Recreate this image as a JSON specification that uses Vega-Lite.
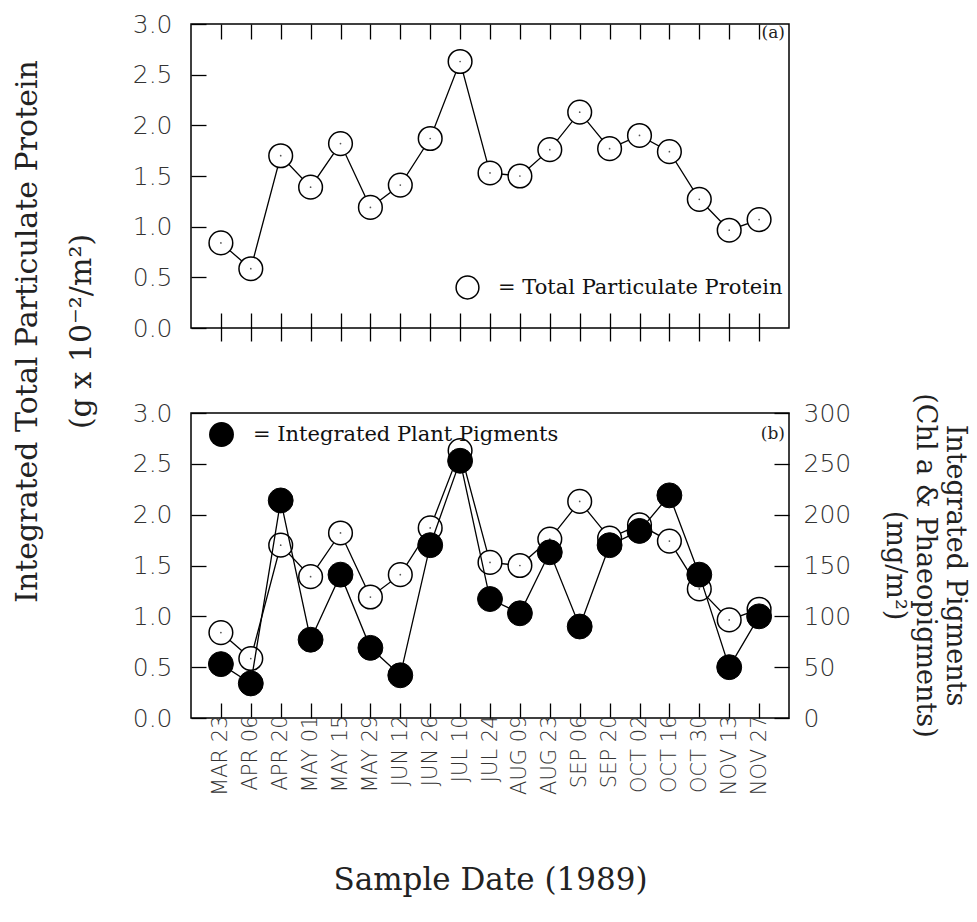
{
  "$schema": "https://vega.github.io/schema/vega-lite/v6.json",
  "background": "white",
  "padding": {"left": 11, "top": 11, "right": 5, "bottom": 5},
  "bounds": "flush",
  "spacing": 85,
  "data": {
    "values": [
      {"date": "MAR 23", "protein": 0.84, "pigment": 53},
      {"date": "APR 06", "protein": 0.585, "pigment": 34},
      {"date": "APR 20", "protein": 1.70, "pigment": 214},
      {"date": "MAY 01", "protein": 1.39, "pigment": 77},
      {"date": "MAY 15", "protein": 1.82, "pigment": 141},
      {"date": "MAY 29", "protein": 1.19, "pigment": 69},
      {"date": "JUN 12", "protein": 1.41, "pigment": 42},
      {"date": "JUN 26", "protein": 1.87, "pigment": 170},
      {"date": "JUL 10", "protein": 2.63, "pigment": 253},
      {"date": "JUL 24", "protein": 1.53, "pigment": 117},
      {"date": "AUG 09", "protein": 1.50, "pigment": 103},
      {"date": "AUG 23", "protein": 1.76, "pigment": 163},
      {"date": "SEP 06", "protein": 2.13, "pigment": 90},
      {"date": "SEP 20", "protein": 1.77, "pigment": 170},
      {"date": "OCT 02", "protein": 1.90, "pigment": 184},
      {"date": "OCT 16", "protein": 1.74, "pigment": 219},
      {"date": "OCT 30", "protein": 1.27, "pigment": 141},
      {"date": "NOV 13", "protein": 0.965, "pigment": 50},
      {"date": "NOV 27", "protein": 1.07, "pigment": 100}
    ]
  },
  "config": {
    "view": {"stroke": "black", "strokeWidth": 1.5},
    "axis": {
      "domain": false, "grid": false, "tickColor": "black", "tickWidth": 1.3,
      "labelFont": "DejaVu Sans", "labelFontWeight": 200, "labelColor": "#333", "labelFontSize": 25,
      "titleFont": "DejaVu Serif", "titleFontWeight": "normal", "titleColor": "#222", "titleFontSize": 27
    },
    "legend": {
      "labelFont": "DejaVu Serif", "labelFontSize": 21, "labelColor": "#111", "labelLimit": 0,
      "labelOffset": 18, "padding": 0
    },
    "title": {"font": "DejaVu Serif", "fontSize": 17, "fontWeight": "normal", "color": "#222", "frame": "group"}
  },
  "resolve": {"scale": {"shape": "independent", "stroke": "independent"}, "legend": {"shape": "independent", "stroke": "independent"}},
  "vconcat": [
    {
      "width": 598, "height": 304,
      "title": {"text": "(a)", "anchor": "end", "orient": "top", "offset": -30, "dx": -4, "frame": "group"},
      "layer": [
        {
          "mark": {"type": "line", "color": "black", "strokeWidth": 1.3},
          "encoding": {
            "x": {"field": "date", "type": "ordinal", "sort": null, "scale": {"type": "point", "padding": 1},
                  "axis": {"orient": "bottom", "title": null, "labels": false, "tickSize": 28, "offset": -15}},
            "y": {"field": "protein", "type": "quantitative", "scale": {"domain": [0, 3]},
                  "axis": {"values": [0, 0.5, 1, 1.5, 2, 2.5, 3], "format": ".1f", "tickSize": -15, "labelPadding": 34,
                           "title": ["Integrated Total Particulate Protein", "(g x 10⁻²/m²)"],
                           "titleFontSize": 30,
                           "titleAngle": -90, "titleLineHeight": 54, "titleBaseline": "bottom", "titleAlign": "center",
                           "titleX": -149, "titleY": 307}}
          }
        },
        {
          "mark": {"type": "point", "shape": "circle", "filled": true, "fill": "white", "strokeWidth": 1.5, "size": 560, "opacity": 1},
          "encoding": {
            "x": {"field": "date", "type": "ordinal", "sort": null, "scale": {"type": "point", "padding": 1},
                  "axis": {"orient": "top", "title": null, "labels": false, "tickSize": -15}},
            "y": {"field": "protein", "type": "quantitative", "scale": {"domain": [0, 3]}},
            "stroke": {"datum": "Total Particulate Protein", "scale": {"range": ["black"]},
                      "legend": {"orient": "bottom-right", "offset": 6, "title": " ", "titleOrient": "bottom", "titleFontSize": 14, "titlePadding": 6,
                                 "labelExpr": "'= ' + datum.label", "labelLimit": 0,
                                 "symbolType": "circle", "symbolSize": 520, "symbolStrokeWidth": 1.5,
                                 "symbolFillColor": "white"}}
          }
        },
        {
          "mark": {"type": "point", "shape": "circle", "filled": true, "color": "#555", "size": 3, "opacity": 1},
          "encoding": {
            "x": {"field": "date", "type": "ordinal", "sort": null, "scale": {"type": "point", "padding": 1}, "axis": null},
            "y": {"field": "protein", "type": "quantitative", "scale": {"domain": [0, 3]}}
          }
        }
      ],
      "resolve": {"axis": {"x": "independent"}}
    },
    {
      "width": 598, "height": 305,
      "title": {"text": "(b)", "anchor": "end", "orient": "top", "offset": -50, "dx": -4, "frame": "group"},
      "layer": [
        {
          "layer": [
            {
              "mark": {"type": "line", "color": "black", "strokeWidth": 1.3},
              "encoding": {
                "x": {"field": "date", "type": "ordinal", "sort": null, "scale": {"type": "point", "padding": 1},
                      "axis": {"orient": "bottom", "title": "Sample Date (1989)", "titleFontSize": 31, "titlePadding": 70, "labelAngle": -90, "labelAlign": "right", "labelBaseline": "middle", "labelFontSize": 21, "tickSize": -15, "labelPadding": 12}},
                "y": {"field": "protein", "type": "quantitative", "scale": {"domain": [0, 3]},
                      "axis": {"orient": "left", "values": [0, 0.5, 1, 1.5, 2, 2.5, 3], "format": ".1f", "tickSize": -15, "labelPadding": 34, "title": null}}
              }
            },
            {
              "mark": {"type": "point", "shape": "circle", "filled": true, "fill": "white", "stroke": "black", "strokeWidth": 1.5, "size": 560, "opacity": 1},
              "encoding": {
                "x": {"field": "date", "type": "ordinal", "sort": null, "scale": {"type": "point", "padding": 1}},
                "y": {"field": "protein", "type": "quantitative", "scale": {"domain": [0, 3]}}
              }
            },
            {
              "mark": {"type": "point", "shape": "circle", "filled": true, "color": "#555", "size": 3, "opacity": 1},
              "encoding": {
                "x": {"field": "date", "type": "ordinal", "sort": null, "scale": {"type": "point", "padding": 1}},
                "y": {"field": "protein", "type": "quantitative", "scale": {"domain": [0, 3]}}
              }
            }
          ]
        },
        {
          "layer": [
            {
              "mark": {"type": "line", "color": "black", "strokeWidth": 1.3},
              "encoding": {
                "x": {"field": "date", "type": "ordinal", "sort": null, "scale": {"type": "point", "padding": 1}},
                "y": {"field": "pigment", "type": "quantitative", "scale": {"domain": [0, 300]},
                      "axis": {"orient": "right", "values": [0, 50, 100, 150, 200, 250, 300], "tickSize": -15, "labelPadding": 29,
                               "title": ["Integrated Pigments", "(Chl a & Phaeopigments)", "(mg/m²)\u00a0\u00a0\u00a0\u00a0\u00a0\u00a0\u00a0\u00a0"],
                               "titleAngle": 90, "titleLineHeight": 30, "titleBaseline": "bottom", "titleAlign": "center",
                               "titleX": 151, "titleY": 152}}
              }
            },
            {
              "mark": {"type": "point", "shape": "circle", "filled": true, "fill": "black", "stroke": "black", "strokeWidth": 1, "size": 620, "opacity": 1},
              "encoding": {
                "x": {"field": "date", "type": "ordinal", "sort": null, "scale": {"type": "point", "padding": 1}},
                "y": {"field": "pigment", "type": "quantitative", "scale": {"domain": [0, 300]}},
                "shape": {"datum": "Integrated Plant Pigments",
                          "legend": {"orient": "top-left", "offset": 8, "title": null, "symbolOffset": 9,
                                     "labelExpr": "'= ' + datum.label", "labelLimit": 0,
                                     "symbolFillColor": "black", "symbolStrokeColor": "black", "symbolType": "circle", "symbolSize": 620}}
              }
            }
          ]
        }
      ],
      "resolve": {"scale": {"y": "independent"}}
    }
  ]
}
